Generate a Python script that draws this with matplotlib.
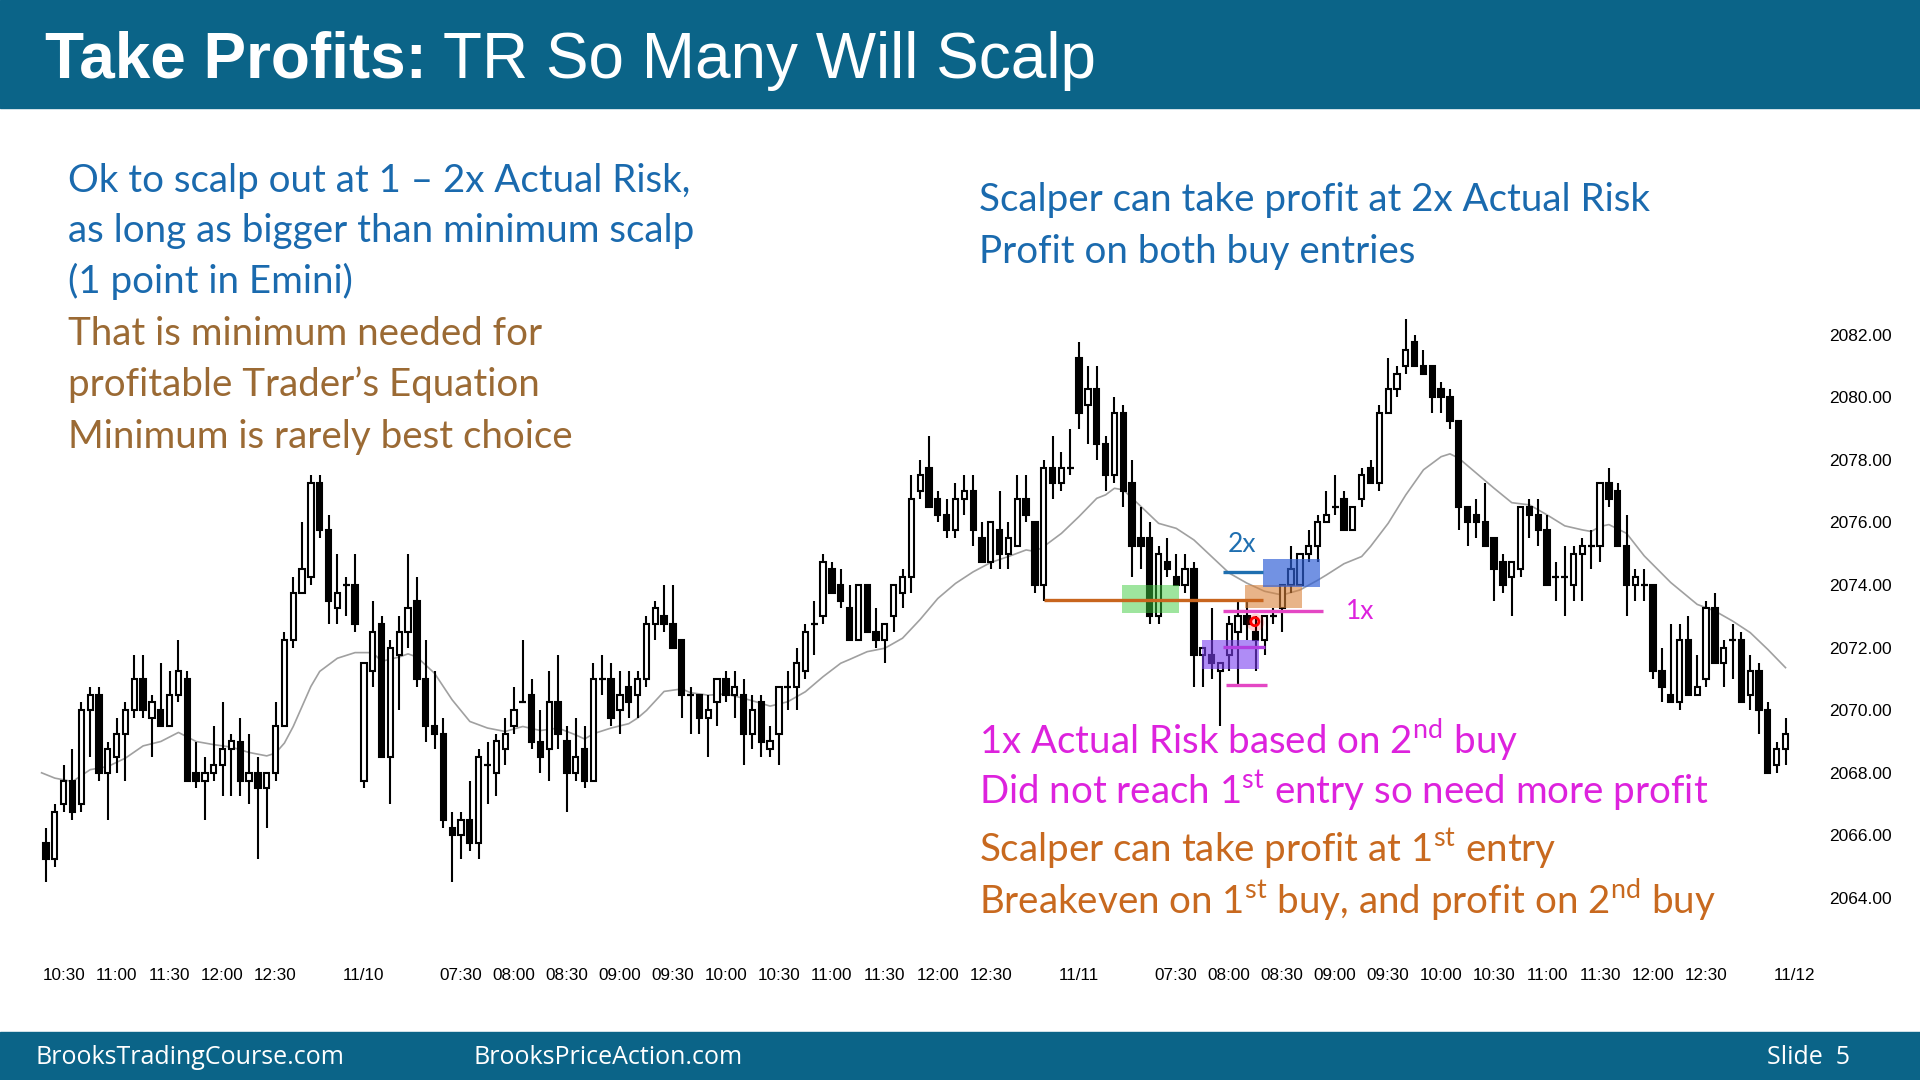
import numpy as np
import matplotlib
matplotlib.use("Agg")
import matplotlib.pyplot as plt
from matplotlib.patches import Rectangle

# ---------------- data (5-min Emini bars, 11/9 10:20 -> 11/11 13:15) ----------------
opens = [2065.75, 2065.25, 2067.0, 2067.75, 2067.0, 2070.0, 2070.5, 2068.0, 2068.5, 2069.25,
         2070.0, 2071.0, 2069.75, 2070.0, 2069.5, 2070.5, 2071.0, 2068.0, 2067.75, 2068.0,
         2068.25, 2068.75, 2069.0, 2067.75, 2068.0, 2067.5, 2068.0, 2069.5, 2072.25, 2073.75,
         2074.25, 2077.25, 2075.75, 2073.25, 2074.0, 2074.0, 2067.75, 2071.25, 2072.75, 2068.5,
         2071.75, 2072.5, 2073.5, 2071.0, 2069.5, 2069.25, 2066.25, 2066.0, 2066.5, 2065.75,
         2068.25, 2068.0, 2068.75, 2069.5, 2070.25, 2070.5, 2069.0, 2068.75, 2070.25, 2069.0,
         2068.0, 2068.75, 2067.75, 2071.0, 2071.0, 2070.0, 2070.75, 2070.5, 2071.0, 2072.75,
         2073.0, 2072.75, 2072.25, 2070.5, 2070.5, 2069.75, 2070.25, 2071.0, 2070.5, 2070.5,
         2069.25, 2070.25, 2068.75, 2069.25, 2070.75, 2070.75, 2071.25, 2072.75, 2073.0, 2074.5,
         2074.0, 2073.25, 2072.25, 2074.0, 2072.5, 2072.25, 2073.0, 2073.75, 2074.25, 2077.0,
         2077.75, 2076.75, 2076.25, 2075.75, 2076.75, 2077.0, 2075.5, 2074.75, 2075.75, 2075.0,
         2075.25, 2076.75, 2076.0, 2074.0, 2077.75, 2077.25, 2077.75, 2081.25, 2079.75, 2080.25,
         2078.5, 2077.5, 2079.5, 2077.25, 2075.5, 2075.5, 2073.0, 2074.75, 2074.25, 2074.0,
         2074.5, 2071.75, 2071.75, 2071.25, 2071.75, 2072.5, 2073.0, 2072.5, 2072.25, 2073.0,
         2073.25, 2074.0, 2074.0, 2075.0, 2075.25, 2076.0, 2076.5, 2076.75, 2075.75, 2076.75,
         2077.75, 2077.25, 2079.5, 2080.25, 2081.0, 2081.75, 2081.0, 2081.0, 2080.25, 2080.0,
         2079.25, 2076.5, 2076.25, 2076.0, 2075.5, 2074.75, 2074.25, 2074.5, 2076.5, 2076.25,
         2075.75, 2074.25, 2074.25, 2074.0, 2075.0, 2075.25, 2075.25, 2077.25, 2077.0, 2075.25,
         2074.0, 2074.0, 2074.0, 2071.25, 2070.5, 2070.25, 2072.25, 2070.5, 2071.0, 2073.25,
         2071.5, 2072.25, 2072.25, 2070.5, 2071.25, 2070.0, 2068.25, 2068.75]
highs = [2066.25, 2067.0, 2068.25, 2068.75, 2070.25, 2070.75, 2070.75, 2069.0, 2069.75, 2070.25,
         2071.75, 2071.75, 2070.5, 2071.5, 2071.25, 2072.25, 2071.25, 2069.0, 2068.5, 2069.5,
         2070.25, 2069.25, 2069.75, 2069.25, 2068.5, 2068.0, 2070.25, 2072.5, 2074.25, 2076.0,
         2077.5, 2077.5, 2076.25, 2075.0, 2074.25, 2075.0, 2071.5, 2073.5, 2073.0, 2072.25,
         2073.0, 2075.0, 2074.25, 2072.25, 2071.25, 2069.75, 2066.75, 2066.75, 2067.75, 2068.75,
         2069.0, 2069.25, 2069.75, 2070.75, 2072.25, 2071.0, 2070.0, 2071.25, 2071.75, 2069.5,
         2069.75, 2069.5, 2071.5, 2071.75, 2071.5, 2071.25, 2071.25, 2071.25, 2073.0, 2073.5,
         2074.0, 2074.0, 2072.25, 2070.75, 2070.5, 2070.5, 2071.0, 2071.25, 2071.25, 2071.0,
         2070.5, 2070.5, 2069.5, 2070.75, 2071.25, 2072.0, 2072.75, 2073.5, 2075.0, 2074.75,
         2074.5, 2074.0, 2074.0, 2074.0, 2073.25, 2072.75, 2074.0, 2074.5, 2077.5, 2078.0,
         2078.75, 2077.0, 2076.75, 2077.25, 2077.5, 2077.5, 2076.0, 2076.0, 2077.0, 2076.0,
         2077.5, 2077.5, 2076.0, 2078.0, 2078.75, 2078.25, 2079.0, 2081.75, 2081.0, 2081.0,
         2078.75, 2080.0, 2079.75, 2078.0, 2076.5, 2076.0, 2075.25, 2075.5, 2075.0, 2075.0,
         2074.75, 2072.0, 2073.25, 2071.5, 2073.0, 2073.5, 2073.5, 2073.0, 2073.0, 2073.25,
         2074.0, 2075.25, 2075.0, 2075.75, 2076.25, 2077.0, 2077.5, 2077.0, 2076.5, 2077.75,
         2078.0, 2079.75, 2081.25, 2081.0, 2082.5, 2082.0, 2081.5, 2081.0, 2080.5, 2080.25,
         2079.25, 2076.5, 2076.75, 2077.25, 2075.5, 2075.0, 2074.75, 2076.5, 2076.75, 2076.75,
         2076.25, 2074.75, 2075.25, 2075.25, 2075.5, 2075.75, 2077.25, 2077.75, 2077.25, 2076.25,
         2074.5, 2074.5, 2074.0, 2072.0, 2072.75, 2072.75, 2073.0, 2071.75, 2073.5, 2073.75,
         2072.25, 2072.75, 2072.5, 2071.75, 2071.5, 2070.25, 2069.0, 2069.75]
lows = [2064.5, 2065.0, 2066.75, 2066.5, 2066.75, 2068.5, 2067.75, 2066.5, 2068.0, 2067.75,
        2069.75, 2069.75, 2068.5, 2069.5, 2069.5, 2070.25, 2067.75, 2067.5, 2066.5, 2067.75,
        2067.25, 2067.25, 2067.25, 2067.0, 2065.25, 2066.25, 2067.75, 2069.5, 2072.0, 2073.75,
        2074.0, 2075.5, 2072.75, 2072.75, 2073.0, 2072.5, 2067.5, 2070.75, 2068.5, 2067.0,
        2070.0, 2072.0, 2070.75, 2069.0, 2068.75, 2066.25, 2064.5, 2065.25, 2065.5, 2065.25,
        2067.0, 2067.25, 2068.25, 2069.25, 2070.25, 2068.75, 2068.0, 2067.75, 2068.75, 2066.75,
        2067.75, 2067.5, 2067.75, 2070.5, 2069.5, 2069.25, 2069.75, 2069.75, 2070.75, 2072.25,
        2072.5, 2072.0, 2069.75, 2069.25, 2069.25, 2068.5, 2069.5, 2070.25, 2069.75, 2068.25,
        2068.75, 2068.5, 2068.5, 2068.25, 2070.0, 2070.0, 2071.0, 2071.75, 2072.75, 2073.75,
        2073.25, 2072.25, 2072.25, 2072.5, 2072.0, 2071.5, 2072.5, 2073.25, 2073.75, 2076.75,
        2076.5, 2076.0, 2075.5, 2075.5, 2076.25, 2075.25, 2074.75, 2074.5, 2074.5, 2074.5,
        2075.25, 2076.0, 2073.75, 2073.5, 2076.75, 2077.0, 2077.5, 2079.0, 2078.5, 2078.0,
        2077.0, 2077.25, 2076.5, 2074.25, 2074.5, 2072.75, 2072.75, 2074.25, 2074.0, 2073.75,
        2070.75, 2070.75, 2071.0, 2069.5, 2071.25, 2070.75, 2072.25, 2071.25, 2071.75, 2072.75,
        2072.5, 2073.75, 2074.0, 2074.75, 2074.75, 2076.0, 2076.25, 2075.75, 2075.75, 2076.5,
        2077.25, 2077.0, 2079.5, 2080.0, 2080.75, 2081.0, 2080.75, 2079.5, 2079.5, 2079.0,
        2075.75, 2075.25, 2075.5, 2075.25, 2073.5, 2073.75, 2073.0, 2074.25, 2075.5, 2075.25,
        2074.0, 2073.5, 2073.0, 2073.5, 2073.5, 2074.5, 2074.75, 2076.5, 2075.25, 2073.0,
        2073.5, 2073.5, 2071.0, 2070.25, 2070.25, 2070.0, 2070.5, 2070.5, 2070.75, 2071.5,
        2070.75, 2071.0, 2070.25, 2070.0, 2069.25, 2068.0, 2068.0, 2068.25]
closes = [2065.25, 2066.75, 2067.75, 2066.75, 2070.0, 2070.5, 2068.0, 2068.75, 2069.25, 2070.0,
          2071.0, 2070.0, 2070.25, 2069.5, 2070.5, 2071.25, 2067.75, 2067.75, 2068.0, 2068.25,
          2068.75, 2069.0, 2067.75, 2068.0, 2067.5, 2068.0, 2069.5, 2072.25, 2073.75, 2074.5,
          2077.25, 2075.75, 2073.5, 2073.75, 2074.0, 2072.75, 2071.5, 2072.5, 2068.5, 2072.0,
          2072.5, 2073.25, 2071.0, 2069.5, 2069.25, 2066.5, 2066.0, 2066.5, 2065.75, 2068.5,
          2068.25, 2069.0, 2069.25, 2070.0, 2070.25, 2069.0, 2068.5, 2070.25, 2069.25, 2068.0,
          2068.5, 2067.75, 2071.0, 2071.0, 2069.75, 2070.5, 2070.25, 2071.0, 2072.75, 2073.25,
          2072.75, 2072.0, 2070.5, 2070.5, 2069.75, 2070.0, 2071.0, 2070.5, 2070.75, 2069.25,
          2070.0, 2069.0, 2069.0, 2070.75, 2070.75, 2071.5, 2072.5, 2072.75, 2074.75, 2073.75,
          2073.5, 2072.25, 2074.0, 2072.5, 2072.25, 2072.75, 2074.0, 2074.25, 2076.75, 2077.5,
          2076.5, 2076.25, 2075.75, 2076.75, 2077.0, 2075.75, 2074.75, 2076.0, 2075.0, 2075.5,
          2076.75, 2076.25, 2074.0, 2077.75, 2077.25, 2077.75, 2077.75, 2079.5, 2080.25, 2078.5,
          2077.5, 2079.5, 2077.0, 2075.25, 2075.25, 2073.0, 2075.0, 2074.5, 2074.0, 2074.5,
          2071.75, 2072.0, 2071.5, 2071.5, 2072.75, 2073.0, 2072.75, 2072.25, 2073.0, 2073.0,
          2074.0, 2074.5, 2075.0, 2075.25, 2076.0, 2076.25, 2076.5, 2075.75, 2076.5, 2077.5,
          2077.25, 2079.5, 2080.25, 2080.75, 2081.5, 2081.0, 2080.75, 2080.0, 2080.0, 2079.25,
          2076.5, 2076.0, 2076.0, 2075.25, 2074.5, 2074.0, 2074.75, 2076.5, 2076.25, 2075.75,
          2074.0, 2074.25, 2074.25, 2075.0, 2075.25, 2075.25, 2077.25, 2076.75, 2075.25, 2074.0,
          2074.25, 2074.0, 2071.25, 2070.75, 2070.25, 2072.25, 2070.5, 2070.75, 2073.25, 2071.5,
          2072.0, 2072.25, 2070.25, 2071.25, 2070.0, 2068.0, 2068.75, 2069.25]

# 20-bar EMA (bar index, price)
ema_idx = [-0.5, 1, 3, 5, 7, 9, 11, 13, 15, 17, 19, 21, 23, 25, 26, 27, 28, 29, 30, 31, 33, 35,
           37, 38, 40, 41, 42, 44, 46, 48, 50, 52, 54, 56, 58, 60, 61, 62, 64, 66, 67, 68, 70,
           72, 73, 75, 77, 79, 81, 82, 84, 86, 88, 90, 91, 93, 95, 97, 99, 101, 103, 105, 107,
           109, 111, 112, 113, 115, 117, 119, 120, 121, 122, 124, 126, 128, 130, 132, 134, 136,
           138, 140, 142, 144, 145, 147, 149, 150, 152, 154, 156, 158, 159, 160, 162, 164, 166,
           168, 170, 172, 174, 175, 176, 177, 179, 181, 184, 187, 189, 191, 193, 195, 197]
ema_val = [2068.0, 2067.83, 2067.72, 2068.1, 2068.2, 2068.47, 2068.86, 2069.0, 2069.29, 2069.0,
           2068.9, 2068.82, 2068.65, 2068.54, 2068.63, 2068.95, 2069.48, 2070.12, 2070.76, 2071.24,
           2071.66, 2071.84, 2071.84, 2071.56, 2071.7, 2071.8, 2071.7, 2071.18, 2070.33, 2069.64,
           2069.43, 2069.32, 2069.48, 2069.35, 2069.43, 2069.21, 2069.08, 2069.25, 2069.43,
           2069.57, 2069.75, 2069.99, 2070.6, 2070.68, 2070.56, 2070.48, 2070.52, 2070.38,
           2070.22, 2070.13, 2070.27, 2070.59, 2071.07, 2071.5, 2071.62, 2071.87, 2071.98,
           2072.3, 2072.9, 2073.57, 2074.05, 2074.42, 2074.72, 2074.91, 2075.12, 2075.07,
           2075.23, 2075.65, 2076.19, 2076.77, 2076.88, 2077.09, 2077.04, 2076.51, 2075.97,
           2075.81, 2075.44, 2074.91, 2074.38, 2074.06, 2073.8, 2073.68, 2073.84, 2074.15,
           2074.32, 2074.68, 2074.91, 2075.23, 2075.97, 2076.88, 2077.68, 2078.1, 2078.19,
           2078.05, 2077.57, 2077.09, 2076.63, 2076.56, 2076.24, 2075.89, 2075.76, 2075.71,
           2075.87, 2075.93, 2075.65, 2074.93, 2074.08, 2073.38, 2073.17, 2072.85, 2072.48,
           2071.94, 2071.36]

time_tick_idx = [2, 8, 14, 20, 26, 36, 47, 53, 59, 65, 71, 77, 83, 89, 95, 101, 107, 117,
                 128, 134, 140, 146, 152, 158, 164, 170, 176, 182, 188, 198]
time_tick_labels = ["10:30", "11:00", "11:30", "12:00", "12:30", "11/10",
                    "07:30", "08:00", "08:30", "09:00", "09:30", "10:00", "10:30", "11:00",
                    "11:30", "12:00", "12:30", "11/11",
                    "07:30", "08:00", "08:30", "09:00", "09:30", "10:00", "10:30", "11:00",
                    "11:30", "12:00", "12:30", "11/12"]
price_ticks = [2064, 2066, 2068, 2070, 2072, 2074, 2076, 2078, 2080, 2082]

# ---------------- figure ----------------
W, H = 1920, 1080
fig = plt.figure(figsize=(19.2, 10.8), dpi=100)
fig.patch.set_facecolor("white")

def fx(px):
    return px / W

def fy(py):
    return 1 - py / H

BAR = "#0b6488"
fig.patches.append(Rectangle((0, fy(108)), 1, 108 / H, transform=fig.transFigure,
                             color=BAR, zorder=0))
fig.patches.append(Rectangle((0, 0), 1, 48 / H, transform=fig.transFigure,
                             color=BAR, zorder=0))

# axes placed so that bar i -> x = 46 + 8.83 i px, price p -> y = 334.6 + (2082-p)*31.3 px
ax_l, ax_r, ax_t, ax_b = 30, 1800, 115, 960
ax = fig.add_axes([fx(ax_l), fy(ax_b), (ax_r - ax_l) / W, (ax_b - ax_t) / H])
ax.set_facecolor("none")
ax.set_xlim((ax_l - 46) / 8.83, (ax_r - 46) / 8.83)
ax.set_ylim(2082 - (ax_b - 334.6) / 31.3, 2082 + (334.6 - ax_t) / 31.3)
for s in ax.spines.values():
    s.set_visible(False)

o = np.array(opens); h = np.array(highs); l = np.array(lows); c = np.array(closes)
x = np.arange(len(o))
up = c >= o
doji = np.isclose(c, o)

ax.plot(ema_idx, ema_val, color="#a0a0a0", lw=1.2, zorder=1)
ax.vlines(x, l, h, color="black", lw=1.5, zorder=2)
bw = 0.6
ax.bar(x[~doji], np.abs(c - o)[~doji], bottom=np.minimum(o, c)[~doji], width=bw,
       color=np.where(up, "white", "black")[~doji], edgecolor="black", linewidth=1.5, zorder=3)
ax.hlines(c[doji], x[doji] - bw / 2 - 0.1, x[doji] + bw / 2 + 0.1, color="black", lw=1.6, zorder=3)

# ---------------- annotations on the chart ----------------
ax.add_patch(Rectangle((121.9, 2073.1), 6.4, 0.9, color="#3fcc3f", alpha=0.5, lw=0, zorder=4))
ax.add_patch(Rectangle((130.9, 2071.31), 6.5, 0.92, color="#7b3ff0", alpha=0.6, lw=0, zorder=4))
ax.add_patch(Rectangle((135.8, 2073.26), 6.4, 0.74, color="#d9823a", alpha=0.6, lw=0, zorder=4))
ax.add_patch(Rectangle((137.8, 2073.95), 6.5, 0.87, color="#2f5fd6", alpha=0.68, lw=0, zorder=5))

ax.hlines(2073.52, 113.0, 137.8, color="#c8651e", lw=2.4, zorder=6)
ax.hlines(2074.40, 133.3, 137.8, color="#1f6fb0", lw=2.4, zorder=6)
ax.hlines(2073.18, 133.3, 144.6, color="#e447c4", lw=2.4, zorder=6)
ax.hlines(2072.01, 133.3, 138.0, color="#b140e0", lw=2.4, zorder=6)
ax.hlines(2070.79, 133.6, 138.3, color="#e447c4", lw=2.4, zorder=6)

ax.scatter([136.9], [2072.83], s=160, color="red", alpha=0.18, lw=0, zorder=6)
ax.scatter([136.9], [2072.83], s=34, facecolors="none", edgecolors="red", lw=2.0, zorder=7)

ax.text(135.4, 2075.28, "2x", color="#1f6fb0", fontsize=19, family="Lato",
        ha="center", va="center", zorder=8)
ax.text(148.8, 2073.14, "1x", color="#dd22dd", fontsize=19, family="Lato",
        ha="center", va="center", zorder=8)

# ---------------- axes ticks ----------------
ax.set_yticks(price_ticks)
ax.set_yticklabels([f"{v:.2f}" for v in price_ticks], family="Liberation Sans", fontsize=12.5)
ax.yaxis.tick_right()
ax.tick_params(axis="y", length=0, pad=21)
ax.set_xticks(time_tick_idx)
ax.set_xticklabels(time_tick_labels, family="Liberation Sans", fontsize=12.3)
ax.tick_params(axis="x", length=0, pad=6)

# ---------------- slide texts ----------------
fig.text(fx(45), fy(78), "Take Profits:", color="white", family="Liberation Sans",
         weight="bold", fontsize=46, va="baseline", ha="left")
fig.text(fx(443), fy(78), "TR So Many Will Scalp", color="white", family="Liberation Sans",
         fontsize=46, va="baseline", ha="left")

BLUE = "#1a6aae"
BROWN = "#9b6a34"
MAG = "#dd22dd"
ORG = "#c8691f"
TS = 27.7

left_lines = [("Ok to scalp out at 1 \u2013 2x Actual Risk,", BLUE, 179),
              ("as long as bigger than minimum scalp", BLUE, 229),
              ("(1 point in Emini)", BLUE, 280),
              ("That is minimum needed for", BROWN, 332),
              ("profitable Trader\u2019s Equation", BROWN, 383),
              ("Minimum is rarely best choice", BROWN, 435)]
for txt, col, yc in left_lines:
    fig.text(fx(68), fy(yc + 13), txt, color=col, family="Lato", fontsize=TS,
             va="baseline", ha="left")

right_lines = [("Scalper can take profit at 2x Actual Risk", BLUE, 198),
               ("Profit on both buy entries", BLUE, 250),
               (r"1x Actual Risk based on 2$^{\mathregular{nd}}$ buy", MAG, 740),
               (r"Did not reach 1$^{\mathregular{st}}$ entry so need more profit", MAG, 791),
               (r"Scalper can take profit at 1$^{\mathregular{st}}$ entry", ORG, 849),
               (r"Breakeven on 1$^{\mathregular{st}}$ buy, and profit on 2$^{\mathregular{nd}}$ buy", ORG, 900)]
for txt, col, yc in right_lines:
    fig.text(fx(979), fy(yc + 13), txt, color=col, family="Lato", fontsize=TS,
             va="baseline", ha="left")

fig.text(fx(36), fy(1064), "BrooksTradingCourse.com", color="white", family="Open Sans",
         fontsize=18, va="baseline", ha="left")
fig.text(fx(474), fy(1064), "BrooksPriceAction.com", color="white", family="Open Sans",
         fontsize=18, va="baseline", ha="left")
fig.text(fx(1767), fy(1064), "Slide  5", color="white", family="Open Sans",
         fontsize=18, va="baseline", ha="left")

fig.savefig("out.png", dpi=100, facecolor="white")
